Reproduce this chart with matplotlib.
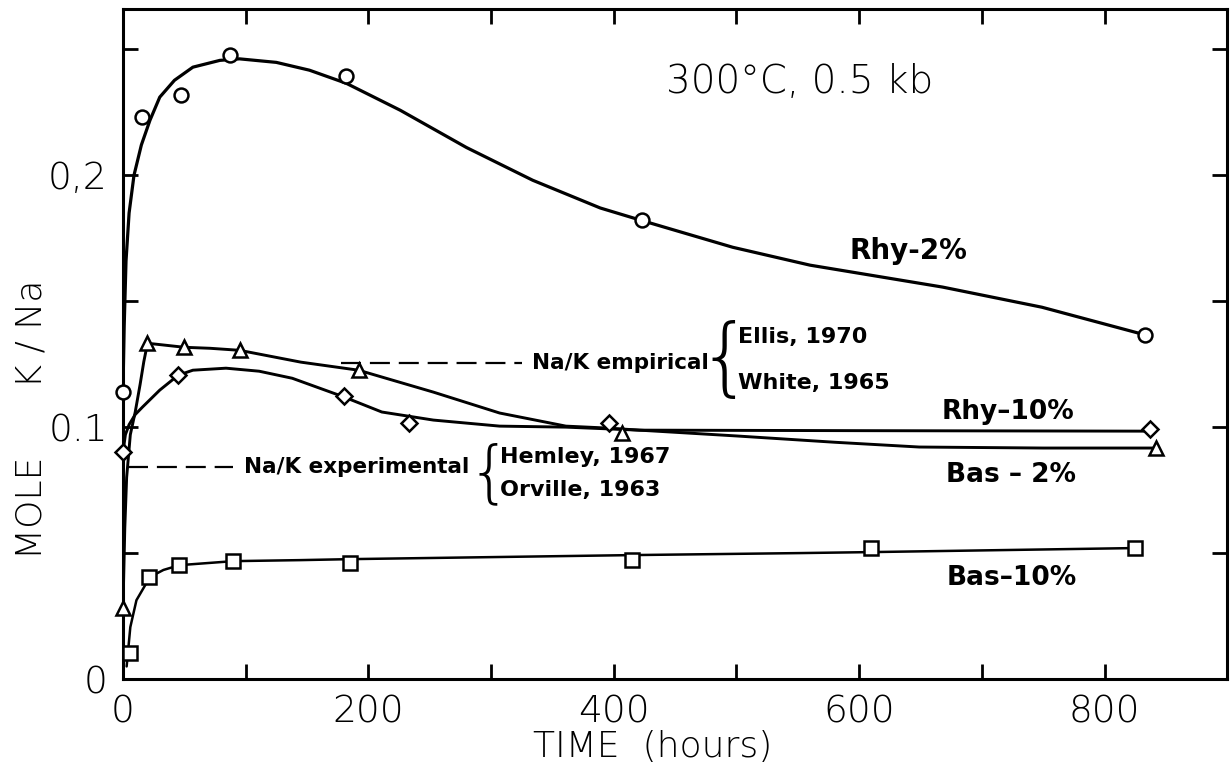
import numpy as np
import matplotlib
matplotlib.use("Agg")
import matplotlib.pyplot as plt

# measured points (hours, mole K/Na)
rhy2_t = [0, 15.5, 47, 87, 182, 423, 833]
rhy2_v = [0.114, 0.223, 0.2317, 0.2476, 0.2393, 0.1821, 0.1365]

rhy10_t = [0, 45, 180, 233, 396, 837]
rhy10_v = [0.090, 0.1206, 0.1123, 0.1016, 0.1016, 0.0992]

bas2_t = [0, 20, 50, 95, 192, 407, 842]
bas2_v = [0.0282, 0.1333, 0.1317, 0.1305, 0.1226, 0.0976, 0.0917]

bas10_t = [5.5, 21, 46, 90, 185, 415, 610, 825]
bas10_v = [0.0103, 0.0405, 0.0452, 0.0468, 0.0460, 0.0472, 0.052, 0.052]

# hand-drawn trend curves
rhy2_curve_t = [0, 1, 2.5, 5, 9, 15, 22, 30, 42, 57, 79, 95, 125, 152, 182, 226,
                280, 334, 389, 423, 497, 560, 668, 749, 834]
rhy2_curve_v = [0.114, 0.14, 0.166, 0.185, 0.2, 0.212, 0.2218, 0.231, 0.2377, 0.2429,
                0.2456, 0.2462, 0.2448, 0.2417, 0.2365, 0.2258, 0.211, 0.198, 0.187,
                0.182, 0.1714, 0.1643, 0.1556, 0.1476, 0.1365]

rhy10_curve_t = [0, 2, 5, 10, 16, 30, 45, 57, 84, 111, 138, 180, 211, 253, 307, 361,
                 421, 600, 837]
rhy10_curve_v = [0.090, 0.097, 0.101, 0.105, 0.108, 0.1147, 0.1206, 0.1226, 0.1234,
                 0.1222, 0.1194, 0.112, 0.106, 0.1028, 0.1004, 0.1, 0.0988, 0.0986, 0.0984]

bas2_curve_t = [0, 1.5, 3, 6, 10, 14, 17, 20, 50, 71, 95, 145, 192, 253, 307, 361,
                396, 421, 500, 580, 649, 750, 842]
bas2_curve_v = [0.028, 0.06, 0.08, 0.097, 0.106, 0.117, 0.126, 0.1333, 0.1317, 0.1313,
                0.1305, 0.1258, 0.1226, 0.1139, 0.1056, 0.1004, 0.0996, 0.0988, 0.0965,
                0.094, 0.0921, 0.0917, 0.0917]

bas10_curve_t = [3, 6, 11, 22, 33, 46, 90, 144, 186, 415, 552, 611, 826]
bas10_curve_v = [0.005, 0.0206, 0.0313, 0.0405, 0.0433, 0.0452, 0.0468, 0.0472,
                 0.0476, 0.0492, 0.050, 0.0504, 0.052]

light = dict(family="DejaVu Sans", weight="light")
bold = dict(family="DejaVu Sans", weight="bold")

fig = plt.figure(figsize=(12.32, 7.74), dpi=100)
ax = fig.add_axes([0.0998, 0.1227, 0.8963, 0.8657])

for t, v, lw in [(rhy2_curve_t, rhy2_curve_v, 2.3), (rhy10_curve_t, rhy10_curve_v, 2.1),
                 (bas2_curve_t, bas2_curve_v, 2.1), (bas10_curve_t, bas10_curve_v, 1.8)]:
    ax.plot(t, v, color="black", lw=lw, solid_joinstyle="round", solid_capstyle="round", zorder=2)

mk = dict(linestyle="none", mfc="white", mec="black", mew=1.8, zorder=3, clip_on=False)
ax.plot(rhy2_t, rhy2_v, marker="o", ms=10, **mk)
ax.plot(rhy10_t, rhy10_v, marker="D", ms=8.5, **mk)
ax.plot(bas2_t, bas2_v, marker="^", ms=10, **mk)
ax.plot(bas10_t, bas10_v, marker="s", ms=9.5, **mk)

# Na/K geothermometer reference levels
ax.plot([178, 325], [0.1254, 0.1254], color="black", lw=1.6, dashes=(9, 4))
ax.text(333, 0.1254, "Na/K empirical", fontsize=15.5, va="center", ha="left", **bold)
ax.text(468, 0.126, "{", fontsize=62, va="center", ha="left", **light)
ax.text(501, 0.1357, "Ellis, 1970", fontsize=16, va="center", ha="left", **bold)
ax.text(501, 0.1175, "White, 1965", fontsize=16, va="center", ha="left", **bold)

ax.plot([4, 90], [0.0841, 0.0841], color="black", lw=1.6, dashes=(9, 4))
ax.text(99, 0.0841, "Na/K experimental", fontsize=15.5, va="center", ha="left", **bold)
ax.text(281, 0.081, "{", fontsize=49, va="center", ha="left", **light)
ax.text(307, 0.088, "Hemley, 1967", fontsize=16, va="center", ha="left", **bold)
ax.text(307, 0.075, "Orville, 1963", fontsize=16, va="center", ha="left", **bold)

ax.text(592, 0.170, "Rhy-2%", fontsize=20, va="center", ha="left", **bold)
ax.text(667, 0.106, "Rhy–10%", fontsize=19, va="center", ha="left", **bold)
ax.text(671, 0.081, "Bas – 2%", fontsize=19, va="center", ha="left", **bold)
ax.text(671, 0.040, "Bas–10%", fontsize=19, va="center", ha="left", **bold)

ax.text(443, 0.237, "300°C, 0.5 kb", fontsize=28, va="center", ha="left", **light)

ax.set_xlim(0, 900)
ax.set_ylim(0, 0.266)
ax.set_xticks([0, 200, 400, 600, 800])
ax.set_xticks([100, 300, 500, 700], minor=True)
ax.set_xticklabels(["0", "200", "400", "600", "800"], fontsize=27, **light)
ax.set_yticks([0, 0.1, 0.2])
ax.set_yticks([0.05, 0.15, 0.25], minor=True)
ax.set_yticklabels(["0", "0.1", "0,2"], fontsize=27, **light)
ax.tick_params(which="both", direction="in", top=True, right=True, length=11, width=2)
ax.tick_params(axis="x", pad=11)
ax.tick_params(axis="y", pad=11)
for s in ax.spines.values():
    s.set_linewidth(2.2)

ax.text(-0.083, 0.387, "MOLE      K / Na", rotation=90, fontsize=26, ha="center", va="center",
        transform=ax.transAxes, **light)
fig.text(653 / 1232, 1 - 747 / 774, "TIME  (hours)", fontsize=26, ha="center", va="center", **light)

fig.savefig("out.png", dpi=100)
